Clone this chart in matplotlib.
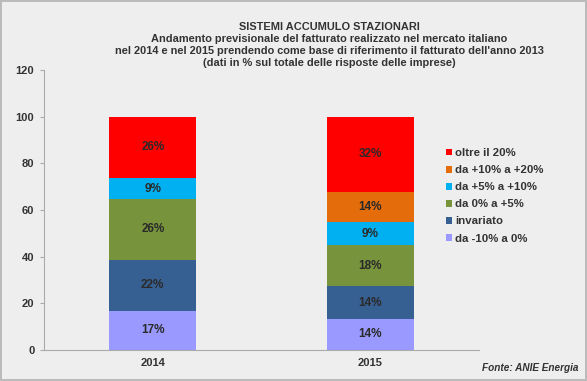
import matplotlib.pyplot as plt
import numpy as np

plt.rcParams['font.family'] = ['Liberation Sans', 'DejaVu Sans']

years = ['2014', '2015']
series = ['da -10% a 0%', 'invariato', 'da 0% a +5%',
          'da +5% a +10%', 'da +10% a +20%', 'oltre il 20%']
colors = ['#9999ff', '#376092', '#77933c', '#00b0f0', '#e46c0a', '#ff0000']

# heights, labels as printed
v_low = [16.9, 13.4]
v_same = [21.7, 13.9]
v_05 = [26.1, 17.8]
v_510 = [9.0, 9.6]
v_1020 = [0.0, 13.1]
v_20 = [26.3, 32.2]
lab_low = ['17%', '14%']
lab_same = ['22%', '14%']
lab_05 = ['26%', '18%']
lab_510 = ['9%', '9%']
lab_1020 = ['', '14%']
lab_20 = ['26%', '32%']

values = [v_low, v_same, v_05, v_510, v_1020, v_20]
labels = [lab_low, lab_same, lab_05, lab_510, lab_1020, lab_20]

bg = '#eeeeee'
fig = plt.figure(figsize=(5.87, 3.81), dpi=100, facecolor=bg,
                 edgecolor='#bbbbbb', linewidth=1.5)
ax = fig.add_axes([44 / 587, 31 / 381, 435 / 587, 280 / 381])
ax.set_facecolor(bg)

x = np.arange(len(years))
bottom = np.zeros(len(years))
for name, vals, labs, c in zip(series, values, labels, colors):
    vals = np.array(vals)
    ax.bar(x, vals, 0.4, bottom=bottom, color=c, label=name)
    for xi, b, v, t in zip(x, bottom, vals, labs):
        if t:
            ax.text(xi, b + v / 2, t, ha='center', va='center',
                    fontsize=8.5, fontweight='bold', color='#2a2a2a')
    bottom += vals

ax.set_xlim(-0.5, 1.5)
ax.set_ylim(0, 120)
ax.set_yticks(range(0, 121, 20))
ax.set_xticks(x)
ax.set_xticklabels(years, fontsize=8, fontweight='bold', color='#333333')
for t in ax.get_yticklabels():
    t.set_fontsize(8)
    t.set_fontweight('bold')
    t.set_color('#333333')
ax.tick_params(axis='x', length=0, pad=6)
ax.tick_params(axis='y', length=3, color='#aaaaaa', pad=4)
for s in ['top', 'right']:
    ax.spines[s].set_visible(False)
ax.spines['left'].set_color('#aaaaaa')
ax.spines['bottom'].set_color('#aaaaaa')

h, l = ax.get_legend_handles_labels()
leg = fig.legend(h[::-1], l[::-1], loc='upper left',
                 bbox_to_anchor=(436 / 587, 1 - 138 / 381),
                 frameon=False, handlelength=0.5,
                 handleheight=0.5, handletextpad=0.25, labelspacing=0.62,
                 prop={'weight': 'bold', 'size': 8.2})
for t in leg.get_texts():
    t.set_color('#333333')

fig.text(329 / 587, 1 - 22 / 381, 'SISTEMI ACCUMULO STAZIONARI\n'
         'Andamento previsionale del fatturato realizzato nel mercato italiano\n'
         'nel 2014 e nel 2015 prendendo come base di riferimento il fatturato dell\'anno 2013\n'
         '(dati in % sul totale delle risposte delle imprese)',
         ha='center', va='top', fontsize=7.9, fontweight='bold',
         color='#333333', linespacing=1.25)
fig.text(579 / 587, 1 - 368 / 381, 'Fonte: ANIE Energia', ha='right',
         va='center', fontsize=7.2, fontweight='bold', style='italic',
         color='#333333')

fig.savefig('out.png', dpi=100, facecolor=bg, edgecolor='#bbbbbb')
